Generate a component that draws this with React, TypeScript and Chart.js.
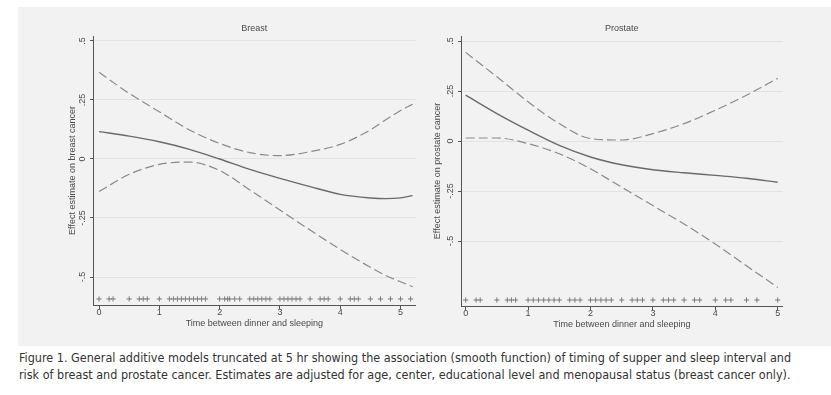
import React, { useEffect, useRef } from "react";
import { Chart, registerables } from "chart.js";

Chart.register(...registerables);

// ---- Data ----
const breastX = [0, 0.5, 1, 1.5, 2, 2.5, 3, 3.5, 4, 4.5, 4.75, 5, 5.2];
const breastFit = [0.116, 0.097, 0.073, 0.041, 0.0, -0.044, -0.082, -0.117, -0.15, -0.165, -0.168, -0.165, -0.155];
const breastUpper = [0.367, 0.278, 0.2, 0.123, 0.066, 0.027, 0.014, 0.031, 0.062, 0.123, 0.165, 0.205, 0.232];
const breastLower = [-0.138, -0.065, -0.023, -0.013, -0.049, -0.131, -0.216, -0.301, -0.383, -0.459, -0.493, -0.52, -0.541];
const breastRug = [0, 0.167, 0.233, 0.5, 0.667, 0.733, 0.8, 1.0, 1.167, 1.233, 1.3, 1.367, 1.433, 1.5, 1.567, 1.633, 1.7, 1.767, 2.0, 2.083, 2.133, 2.167, 2.25, 2.333, 2.5, 2.567, 2.633, 2.7, 2.767, 2.833, 3.0, 3.067, 3.133, 3.2, 3.267, 3.333, 3.5, 3.667, 3.733, 3.8, 4.0, 4.167, 4.233, 4.3, 4.5, 4.667, 4.833, 5.0, 5.167];

const prostateX = [0, 0.5, 1, 1.5, 2, 2.5, 3, 3.5, 4, 4.5, 5];
const prostateFit = [0.229, 0.137, 0.054, -0.022, -0.08, -0.119, -0.144, -0.159, -0.172, -0.186, -0.206];
const prostateUpper = [0.443, 0.321, 0.196, 0.087, 0.012, 0.005, 0.037, 0.087, 0.154, 0.229, 0.313];
const prostateLower = [0.015, 0.015, -0.013, -0.064, -0.139, -0.231, -0.323, -0.415, -0.515, -0.624, -0.732];
const prostateRug = [0, 0.167, 0.233, 0.5, 0.667, 0.733, 0.8, 1.0, 1.083, 1.167, 1.25, 1.333, 1.417, 1.5, 1.667, 1.75, 1.833, 2.0, 2.083, 2.167, 2.25, 2.333, 2.5, 2.667, 2.75, 2.833, 3.0, 3.167, 3.25, 3.333, 3.5, 3.667, 3.75, 4.0, 4.167, 4.25, 4.5, 4.667, 5.0];

const xTickValues = [0, 1, 2, 3, 4, 5];
const xTickLabels = ["0", "1", "2", "3", "4", "5"];
const yTickValues = [-0.5, -0.25, 0, 0.25, 0.5];
const yTickLabels = ["-.5", "-.25", "0", ".25", ".5"];

const xTitle = "Time between dinner and sleeping";
const captionLine1 =
  "Figure 1. General additive models truncated at 5 hr showing the association (smooth function) of timing of supper and sleep interval and";
const captionLine2 =
  "risk of breast and prostate cancer. Estimates are adjusted for age, center, educational level and menopausal status (breast cancer only).";

const FONT = "'Liberation Sans', Arial, sans-serif";
const TEXT = "#4a4a4a";

interface PanelCfg {
  title: string;
  yTitle: string;
  xs: number[];
  fit: number[];
  upper: number[];
  lower: number[];
  rug: number[];
  rugY: number;
  xMin: number;
  xMax: number;
  yMin: number;
  yMax: number;
  yWidth: number;
  padRight: number;
}

function Panel(props: { cfg: PanelCfg; left: number; top: number; width: number; height: number }) {
  const ref = useRef<HTMLCanvasElement | null>(null);
  const { cfg, width, height } = props;
  useEffect(() => {
    if (!ref.current) return;
    const pts = (ys: number[]) => cfg.xs.map((x, i) => ({ x, y: ys[i] }));
    const chart = new Chart(ref.current, {
      type: "line",
      data: {
        datasets: [
          {
            label: "upper",
            data: pts(cfg.upper),
            borderColor: "#8a8a8a",
            borderWidth: 1.2,
            borderDash: [9, 4],
            pointRadius: 0,
            cubicInterpolationMode: "monotone",
            fill: false,
          },
          {
            label: "lower",
            data: pts(cfg.lower),
            borderColor: "#8a8a8a",
            borderWidth: 1.2,
            borderDash: [9, 4],
            pointRadius: 0,
            cubicInterpolationMode: "monotone",
            fill: false,
          },
          {
            label: "fit",
            data: pts(cfg.fit),
            borderColor: "#6a6a6a",
            borderWidth: 1.4,
            pointRadius: 0,
            cubicInterpolationMode: "monotone",
            fill: false,
          },
          {
            type: "scatter",
            label: "rug",
            data: cfg.rug.map((x) => ({ x, y: cfg.rugY })),
            showLine: false,
            pointStyle: "cross",
            pointRadius: 2.6,
            borderWidth: 1,
            borderColor: "#7a7a7a",
            backgroundColor: "#7a7a7a",
          } as any,
        ],
      },
      options: {
        animation: false,
        responsive: false,
        maintainAspectRatio: false,
        layout: { padding: { left: 0, top: 0, right: cfg.padRight, bottom: 0 } },
        plugins: {
          legend: { display: false },
          tooltip: { enabled: false },
          title: {
            display: true,
            text: cfg.title,
            fullSize: false,
            color: TEXT,
            font: { family: FONT, size: 9, weight: "normal" },
            padding: { top: 13.6, bottom: 1.6 },
          },
        },
        scales: {
          x: {
            type: "linear",
            min: cfg.xMin,
            max: cfg.xMax,
            afterBuildTicks: (s: any) => {
              s.ticks = xTickValues.map((v) => ({ value: v }));
            },
            afterFit: (s: any) => {
              s.height = 24;
            },
            ticks: {
              color: TEXT,
              font: { family: FONT, size: 9 },
              padding: -2,
              maxRotation: 0,
              minRotation: 0,
              callback: (v: any) => xTickLabels[xTickValues.indexOf(Number(v))] ?? "",
            },
            grid: {
              drawOnChartArea: false,
              drawTicks: true,
              tickLength: 4,
              tickColor: "#555",
              lineWidth: 1,
            },
            border: { display: true, color: "#555", width: 1 },
            title: {
              display: true,
              text: xTitle,
              color: TEXT,
              font: { family: FONT, size: 9 },
              padding: { top: 0, bottom: 0 },
            },
          },
          y: {
            type: "linear",
            min: cfg.yMin,
            max: cfg.yMax,
            afterBuildTicks: (s: any) => {
              s.ticks = yTickValues.map((v) => ({ value: v }));
            },
            afterFit: (s: any) => {
              s.width = cfg.yWidth;
            },
            ticks: {
              color: TEXT,
              font: { family: FONT, size: 9 },
              padding: 0,
              minRotation: 90,
              maxRotation: 90,
              crossAlign: "center",
              callback: (v: any) => yTickLabels[yTickValues.indexOf(Number(v))] ?? "",
            },
            grid: {
              drawOnChartArea: true,
              color: "#e3e3e3",
              lineWidth: 1,
              drawTicks: true,
              tickLength: 3,
              tickColor: "#555",
            },
            border: { display: true, color: "#555", width: 1 },
            title: {
              display: true,
              text: cfg.yTitle,
              color: TEXT,
              font: { family: FONT, size: 9 },
              padding: { top: 7.6, bottom: 0 },
            },
          },
        },
      } as any,
    });
    return () => chart.destroy();
  }, []);
  return (
    <canvas
      ref={ref}
      width={width}
      height={height}
      style={{ position: "absolute", left: props.left, top: props.top, width, height }}
    />
  );
}

const breastCfg: PanelCfg = {
  title: "Breast",
  yTitle: "Effect estimate on breast cancer",
  xs: breastX,
  fit: breastFit,
  upper: breastUpper,
  lower: breastLower,
  rug: breastRug,
  rugY: -0.593,
  xMin: -0.1,
  xMax: 5.25,
  yMin: -0.6186,
  yMax: 0.521,
  yWidth: 33,
  padRight: 9.4,
};

const prostateCfg: PanelCfg = {
  title: "Prostate",
  yTitle: "Effect estimate on prostate cancer",
  xs: prostateX,
  fit: prostateFit,
  upper: prostateUpper,
  lower: prostateLower,
  rug: prostateRug,
  rugY: -0.795,
  xMin: -0.075,
  xMax: 5.08,
  yMin: -0.825,
  yMax: 0.525,
  yWidth: 36,
  padRight: 48.3,
};

export default function App() {
  return (
    <div style={{ position: "absolute", left: 0, top: 0, width: 831, height: 395, background: "#fff", overflow: "hidden" }}>
      <div style={{ position: "absolute", left: 18, top: 7, width: 813, height: 339, background: "#f2f2f2" }} />
      <Panel cfg={breastCfg} left={60} top={10} width={365} height={319} />
      <Panel cfg={prostateCfg} left={425} top={10} width={406} height={320} />
      <div
        style={{
          position: "absolute",
          left: 19,
          top: 349,
          fontFamily: "'DejaVu Sans Condensed', 'Liberation Sans Narrow', sans-serif",
          fontSize: 12.5,
          lineHeight: "17px",
          color: "#333",
          whiteSpace: "nowrap",
        }}
      >
        <div>{captionLine1}</div>
        <div>{captionLine2}</div>
      </div>
    </div>
  );
}
